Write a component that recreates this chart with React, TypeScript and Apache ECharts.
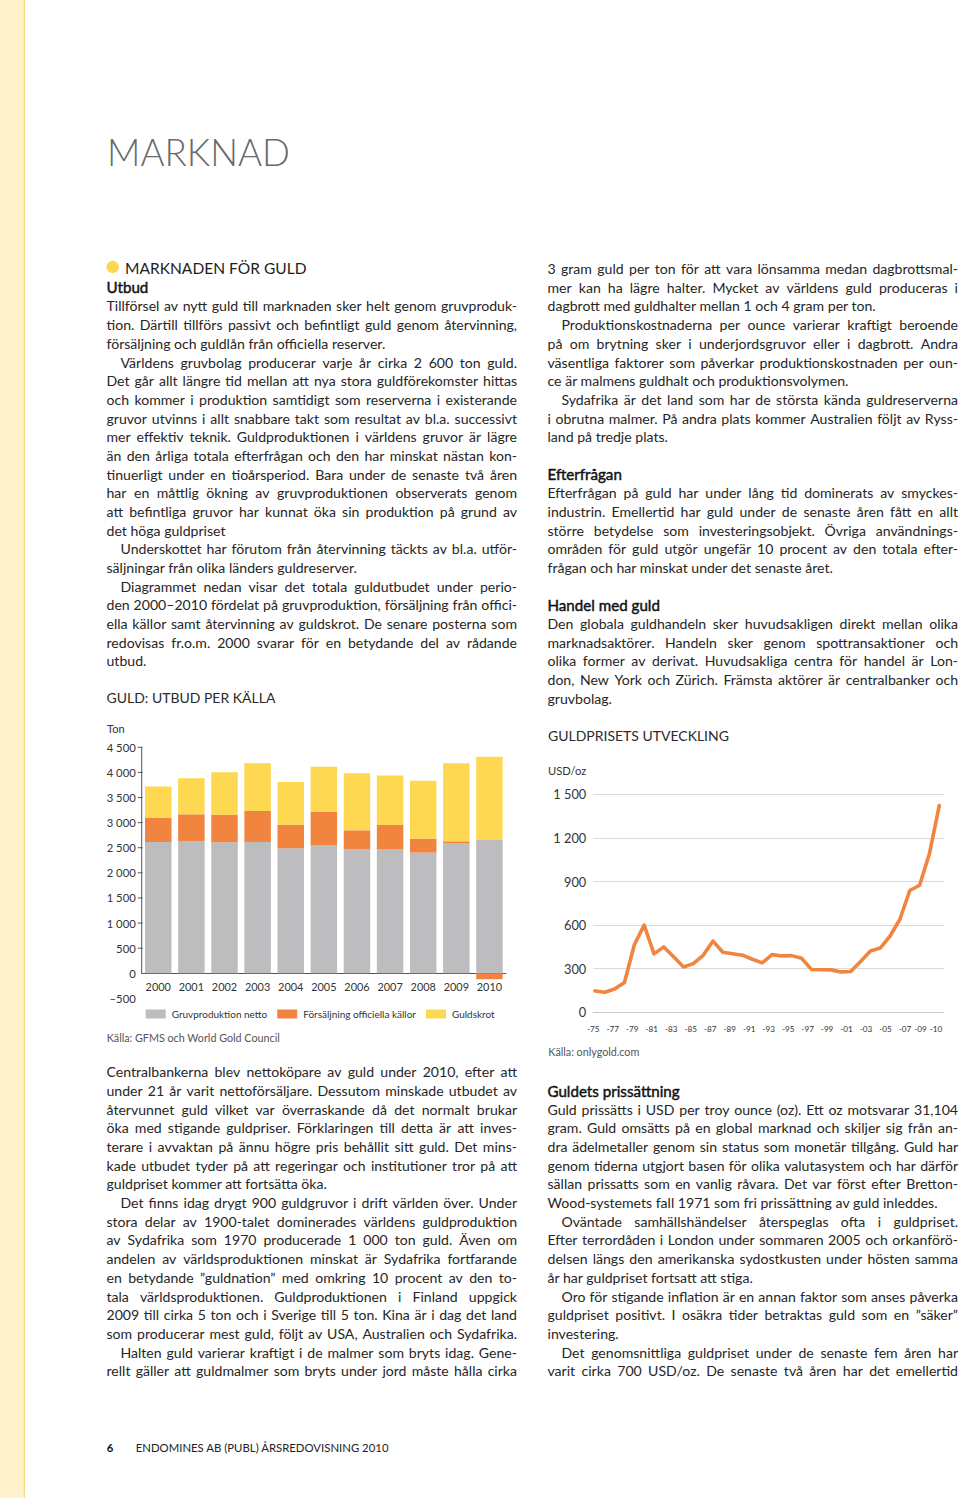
import React, { useEffect, useRef } from "react";
import * as echarts from "echarts";

const FONT = "Lato";
const TEXT = "#262626";
const GRAY = "#bdbdbf";
const ORANGE = "#f1843f";
const YELLOW = "#fdd850";

// ---------- Chart 1: GULD: UTBUD PER KÄLLA (ton) ----------
const supplyYears = ["2000", "2001", "2002", "2003", "2004", "2005", "2006", "2007", "2008", "2009", "2010"];
const supplyNames = ["Gruvproduktion netto", "Försäljning officiella källor", "Guldskrot"];
const mineProduction = [2615, 2635, 2608, 2615, 2489, 2542, 2476, 2469, 2403, 2588, 2655];
const officialSales = [478, 531, 551, 617, 471, 677, 371, 484, 278, 40, -119];
const goldScrap = [624, 717, 843, 949, 850, 896, 1135, 983, 1155, 1553, 1659];
const supplyTickValues = [500, 1000, 1500, 2000, 2500, 3000, 3500, 4000, 4500];

// ---------- Chart 2: GULDPRISETS UTVECKLING (USD/oz) ----------
const priceYears = [1975, 1976, 1977, 1978, 1979, 1980, 1981, 1982, 1983, 1984, 1985, 1986, 1987, 1988, 1989, 1990, 1991, 1992, 1993, 1994, 1995, 1996, 1997, 1998, 1999, 2000, 2001, 2002, 2003, 2004, 2005, 2006, 2007, 2008, 2009, 2010];
const goldPrice = [147, 138, 160, 205, 465, 600, 402, 450, 382, 312, 335, 392, 490, 413, 403, 393, 365, 340, 397, 388, 390, 372, 295, 293, 292, 278, 281, 350, 422, 442, 525, 640, 838, 874, 1092, 1422];
const priceTickLabels = ["-75", "-77", "-79", "-81", "-83", "-85", "-87", "-89", "-91", "-93", "-95", "-97", "-99", "-01", "-03", "-05", "-07", "-09", "-10"];

// ---------- Page text ----------
type Line = [string, string];
const leftTop: Line[] = [
  ["Utbud", "h"],
  ["Tillförsel av nytt guld till marknaden sker helt genom gruvproduk-", "j"],
  ["tion. Därtill tillförs passivt och befintligt guld genom återvinning,", "j"],
  ["försäljning och guldlån från officiella reserver.", ""],
  ["Världens gruvbolag producerar varje år cirka 2 600 ton guld.", "ij"],
  ["Det går allt längre tid mellan att nya stora guldförekomster hittas", "j"],
  ["och kommer i produktion samtidigt som reserverna i existerande", "j"],
  ["gruvor utvinns i allt snabbare takt som resultat av bl.a. successivt", "j"],
  ["mer effektiv teknik. Guldproduktionen i världens gruvor är lägre", "j"],
  ["än den årliga totala efterfrågan och den har minskat nästan kon-", "j"],
  ["tinuerligt under en tioårsperiod. Bara under de senaste två åren", "j"],
  ["har en måttlig ökning av gruvproduktionen observerats genom", "j"],
  ["att befintliga gruvor har kunnat öka sin produktion på grund av", "j"],
  ["det höga guldpriset", ""],
  ["Underskottet har förutom från återvinning täckts av bl.a. utför-", "ij"],
  ["säljningar från olika länders guldreserver.", ""],
  ["Diagrammet nedan visar det totala guldutbudet under perio-", "ij"],
  ["den 2000–2010 fördelat på gruvproduktion, försäljning från offici-", "j"],
  ["ella källor samt återvinning av guldskrot. De senare posterna som", "j"],
  ["redovisas fr.o.m. 2000 svarar för en betydande del av rådande", "j"],
  ["utbud.", ""],
];
const leftBottom: Line[] = [
  ["Centralbankerna blev nettoköpare av guld under 2010, efter att", "j"],
  ["under 21 år varit nettoförsäljare. Dessutom minskade utbudet av", "j"],
  ["återvunnet guld vilket var överraskande då det normalt brukar", "j"],
  ["öka med stigande guldpriser. Förklaringen till detta är att inves-", "j"],
  ["terare i avvaktan på ännu högre pris behållit sitt guld. Det mins-", "j"],
  ["kade utbudet tyder på att regeringar och institutioner tror på att", "j"],
  ["guldpriset kommer att fortsätta öka.", ""],
  ["Det finns idag drygt 900 guldgruvor i drift världen över. Under", "ij"],
  ["stora delar av 1900-talet dominerades världens guldproduktion", "j"],
  ["av Sydafrika som 1970 producerade 1 000 ton guld. Även om", "j"],
  ["andelen av världsproduktionen minskat är Sydafrika fortfarande", "j"],
  ["en betydande ”guldnation” med omkring 10 procent av den to-", "j"],
  ["tala världsproduktionen. Guldproduktionen i Finland uppgick", "j"],
  ["2009 till cirka 5 ton och i Sverige till 5 ton. Kina är i dag det land", "j"],
  ["som producerar mest guld, följt av USA, Australien och Sydafrika.", "j"],
  ["Halten guld varierar kraftigt i de malmer som bryts idag. Gene-", "ij"],
  ["rellt gäller att guldmalmer som bryts under jord måste hålla cirka", "j"],
];
const rightTop: Line[] = [
  ["3 gram guld per ton för att vara lönsamma medan dagbrottsmal-", "j"],
  ["mer kan ha lägre halter. Mycket av världens guld produceras i", "j"],
  ["dagbrott med guldhalter mellan 1 och 4 gram per ton.", ""],
  ["Produktionskostnaderna per ounce varierar kraftigt beroende", "ij"],
  ["på om brytning sker i underjordsgruvor eller i dagbrott. Andra", "j"],
  ["väsentliga faktorer som påverkar produktionskostnaden per oun-", "j"],
  ["ce är malmens guldhalt och produktionsvolymen.", ""],
  ["Sydafrika är det land som har de största kända guldreserverna", "ij"],
  ["i obrutna malmer. På andra plats kommer Australien följt av Ryss-", "j"],
  ["land på tredje plats.", ""],
  ["", ""],
  ["Efterfrågan", "h"],
  ["Efterfrågan på guld har under lång tid dominerats av smyckes-", "j"],
  ["industrin. Emellertid har guld under de senaste åren fått en allt", "j"],
  ["större betydelse som investeringsobjekt. Övriga användnings-", "j"],
  ["områden för guld utgör ungefär 10 procent av den totala efter-", "j"],
  ["frågan och har minskat under det senaste året.", ""],
  ["", ""],
  ["Handel med guld", "h"],
  ["Den globala guldhandeln sker huvudsakligen direkt mellan olika", "j"],
  ["marknadsaktörer. Handeln sker genom spottransaktioner och", "j"],
  ["olika former av derivat. Huvudsakliga centra för handel är Lon-", "j"],
  ["don, New York och Zürich. Främsta aktörer är centralbanker och", "j"],
  ["gruvbolag.", ""],
];
const rightBottom: Line[] = [
  ["Guldets prissättning", "h"],
  ["Guld prissätts i USD per troy ounce (oz). Ett oz motsvarar 31,104", "j"],
  ["gram. Guld omsätts på en global marknad och skiljer sig från an-", "j"],
  ["dra ädelmetaller genom sin status som monetär tillgång. Guld har", "j"],
  ["genom tiderna utgjort basen för olika valutasystem och har därför", "j"],
  ["sällan prissatts som en vanlig råvara. Det var först efter Bretton-", "j"],
  ["Wood-systemets fall 1971 som fri prissättning av guld inleddes.", ""],
  ["Oväntade samhällshändelser återspeglas ofta i guldpriset.", "ij"],
  ["Efter terrordåden i London under sommaren 2005 och orkanförö-", "j"],
  ["delsen längs den amerikanska sydostkusten under hösten samma", "j"],
  ["år har guldpriset fortsatt att stiga.", ""],
  ["Oro för stigande inflation är en annan faktor som anses påverka", "ij"],
  ["guldpriset positivt. I osäkra tider betraktas guld som en ”säker”", "j"],
  ["investering.", ""],
  ["Det genomsnittliga guldpriset under de senaste fem åren har", "ij"],
  ["varit cirka 700 USD/oz. De senaste två åren har det emellertid", "j"],
];

// ---------- Layout ----------
const ROW0 = 288.3;
const LH = 18.68;
const rowY = (k: number) => ROW0 + LH * k;
const LEFT_X = 106.5;
const RIGHT_X = 547.5;
const COL_W = 410.5;
const INDENT = 14;

const BAR_GRID = { left: 141.7, top: 747.3, width: 364.3, height: 251.1 };
const LINE_GRID = { left: 593.3, top: 794.3, width: 350.7, height: 218 };

let _ctx: CanvasRenderingContext2D | null = null;
function measure(text: string, size: number, weight: number = 400) {
  if (!_ctx) _ctx = document.createElement("canvas").getContext("2d");
  _ctx!.font = `${weight} ${size}px ${FONT}`;
  return _ctx!.measureText(text).width;
}
function fit(text: string, width: number, weight: number = 400) {
  return (100 * width) / measure(text, 100, weight);
}

function txt(text: string, x: number, y: number, size: number, o: any = {}) {
  const style: any = {
    text,
    fill: o.color || TEXT,
    fontSize: size,
    fontFamily: FONT,
    fontWeight: o.weight || 400,
    align: o.align || "left",
    verticalAlign: "middle",
    textAlign: o.align || "left",
    textVerticalAlign: "middle",
  };
  if (o.stroke) {
    style.stroke = o.color || TEXT;
    style.lineWidth = o.stroke;
  }
  return { type: "text", x, y, silent: true, style };
}

const fmtNum = (v: number) => {
  const s = String(Math.abs(v)).replace(/\B(?=(\d{3})+(?!\d))/g, " ");
  return v < 0 ? "–" + s : s;
};

function buildPage() {
  const els: any[] = [];
  // margin strip
  els.push({ type: "rect", silent: true, shape: { x: 0, y: 0, width: 23.5, height: 1498 }, style: { fill: "#fff3cc" } });
  els.push({ type: "rect", silent: true, shape: { x: 23.5, y: 0, width: 1.6, height: 1498 }, style: { fill: "#f6dd84" } });

  // Body font size
  let bodySize = fit("försäljning och guldlån från officiella reserver.", 279);
  const all = [...leftTop, ...leftBottom, ...rightTop, ...rightBottom];
  const sp100 = measure(" ", 100);
  all.forEach(([t, f]) => {
    if (!f.includes("j")) return;
    const words = t.split(" ");
    const sum = words.reduce((a, w) => a + measure(w, 100), 0);
    const need = sum + (words.length - 1) * sp100 * 0.55;
    const avail = COL_W - (f.includes("i") ? INDENT : 0);
    bodySize = Math.min(bodySize, (100 * avail) / need);
  });
  const headSize = fit("Handel med guld", 112.5, 400);
  const dy = -0.07 * bodySize;

  const block = (lines: Line[], x0: number, k0: number) => {
    lines.forEach(([t, f], i) => {
      if (!t) return;
      const y = rowY(k0 + i) + dy;
      if (f.includes("h")) {
        els.push(txt(t, x0, y, headSize, { weight: 400, color: "#111", stroke: 0.45 }));
        return;
      }
      const ind = f.includes("i") ? INDENT : 0;
      if (!f.includes("j")) {
        els.push(txt(t, x0 + ind, y, bodySize));
        return;
      }
      const words = t.split(" ");
      const ws = words.map((w) => measure(w, bodySize));
      const total = ws.reduce((a, b) => a + b, 0);
      const gap = (COL_W - ind - total) / (words.length - 1);
      let x = x0 + ind;
      words.forEach((w, j) => {
        els.push(txt(w, x, y, bodySize));
        x += ws[j] + gap;
      });
    });
  };
  block(leftTop, LEFT_X, 0);
  block(leftBottom, LEFT_X, 42);
  block(rightTop, RIGHT_X, -1);
  block(rightBottom, RIGHT_X, 43);

  // Title
  const titleSize = fit("MARKNAD", 183, 300);
  els.push(txt("MARKNAD", 107, 150.8 + 0.036 * titleSize, titleSize, { weight: 300, color: "#6a6a6a" }));

  // Section header with dot
  const secSize = fit("MARKNADEN FÖR GULD", 181.7);
  els.push({ type: "circle", silent: true, shape: { cx: 112.7, cy: 267, r: 6.2 }, style: { fill: "#fcd94c" } });
  els.push(txt("MARKNADEN FÖR GULD", 125, 267.3 + 0.036 * secSize, secSize, { color: "#1e1e1e" }));

  // Chart titles
  const capSize = fit("GULDPRISETS UTVECKLING", 181);
  els.push(txt("GULD: UTBUD PER KÄLLA", 106.5, rowY(22) - 1.5, capSize, { color: "#2a2a2a" }));
  els.push(txt("GULDPRISETS UTVECKLING", 548, rowY(24) - 1.5, capSize, { color: "#2a2a2a" }));

  // Units and sources
  const smallSize = fit("Källa: GFMS och World Gold Council", 173.3);
  els.push(txt("Ton", 107, 728.3, fit("Ton", 17.7), { color: "#333" }));
  els.push(txt("USD/oz", 548, 770.7, fit("USD/oz", 38.4), { color: "#333" }));
  els.push(txt("Källa: GFMS och World Gold Council", 106.7, 1037.3, smallSize, { color: "#555" }));
  els.push(txt("Källa: onlygold.com", 548.3, 1051.7, smallSize, { color: "#555" }));

  // Footer
  const footSize = fit("ENDOMINES AB (PUBL) ÅRSREDOVISNING 2010", 253.6);
  els.push(txt("6", 106.7, 1447.7, footSize, { weight: 700, color: "#111" }));
  els.push(txt("ENDOMINES AB (PUBL) ÅRSREDOVISNING 2010", 135.7, 1447.7, footSize, { color: "#222" }));
  return els;
}

export default function App() {
  const ref = useRef<HTMLDivElement>(null);
  useEffect(() => {
    document.body.style.margin = "0";
    if (!ref.current) return;
    const chart = echarts.init(ref.current, undefined, { renderer: "svg" });
    const pageEls = buildPage();

    const barAxisSize = fit("4 500", 29);
    const barXSize = fit("2000", 25.3);
    const legendSize = fit("Gruvproduktion netto", 95.6);
    const priceYSize = fit("1 500", 33);
    const priceXSize = fit("-75", 12.5);

    const option: any = {
      animation: false,
      textStyle: { fontFamily: FONT },
      grid: [
        { ...BAR_GRID, containLabel: false, outerBoundsMode: "none" },
        { ...LINE_GRID, containLabel: false, outerBoundsMode: "none" },
      ],
      legend: {
        data: supplyNames,
        left: 140.7,
        top: 1004,
        orient: "horizontal",
        icon: "rect",
        itemWidth: 20,
        itemHeight: 9,
        itemGap: 10,
        selectedMode: false,
        textStyle: { fontFamily: FONT, fontSize: legendSize, color: "#333", padding: [0, 0, 0, 1] },
      },
      xAxis: [
        {
          type: "category",
          gridIndex: 0,
          data: supplyYears,
          axisLine: { show: true, onZero: false, lineStyle: { color: "#555", width: 1 } },
          axisTick: { show: false },
          axisLabel: { fontSize: barXSize, color: "#333", margin: 8, fontFamily: FONT },
          splitLine: { show: false },
        },
        {
          type: "value",
          gridIndex: 1,
          min: 1974.83,
          max: 2010.48,
          show: false,
          splitLine: { show: false },
        },
        {
          type: "category",
          gridIndex: 1,
          position: "bottom",
          data: priceTickLabels,
          boundaryGap: false,
          axisLine: { show: true, onZero: false, lineStyle: { color: "#c9c9c9", width: 1.2 } },
          axisTick: { show: false },
          axisLabel: {
            fontSize: priceXSize,
            color: "#333",
            margin: 13,
            fontFamily: FONT,
            interval: 0,
            formatter: (v: string) => (v === "-10" ? "{b|" + v + "}" : v === "-09" ? "{a|" + v + "}" : v),
            rich: {
              a: { fontSize: priceXSize, fontFamily: FONT, color: "#333", padding: [0, 8, 0, 0] },
              b: { fontSize: priceXSize, fontFamily: FONT, color: "#333", padding: [0, 16, 0, 0] },
            },
          },
          splitLine: { show: false },
        },
      ],
      yAxis: [
        {
          type: "value",
          gridIndex: 0,
          min: -500,
          max: 4500,
          interval: 500,
          axisLine: { show: false },
          axisTick: { show: false },
          splitLine: { show: false },
          axisLabel: {
            fontSize: barAxisSize,
            color: "#333",
            margin: 6,
            fontFamily: FONT,
            padding: [0, 0, 5, 0],
            formatter: (v: number) => fmtNum(v),
          },
        },
        {
          type: "value",
          gridIndex: 1,
          min: 0,
          max: 1500,
          interval: 300,
          axisLine: { show: false },
          axisTick: { show: false },
          splitLine: { show: true, lineStyle: { color: "#dadada", width: 1.2 } },
          axisLabel: {
            fontSize: priceYSize,
            color: "#333",
            margin: 7,
            fontFamily: FONT,
            formatter: (v: number) => fmtNum(v),
          },
        },
      ],
      series: [
        {
          name: supplyNames[0],
          type: "bar",
          stack: "supply",
          xAxisIndex: 0,
          yAxisIndex: 0,
          barCategoryGap: "20%",
          data: mineProduction,
          itemStyle: { color: GRAY },
          silent: true,
        },
        {
          name: supplyNames[1],
          type: "bar",
          stack: "supply",
          xAxisIndex: 0,
          yAxisIndex: 0,
          barCategoryGap: "20%",
          data: officialSales,
          itemStyle: { color: ORANGE },
          silent: true,
        },
        {
          name: supplyNames[2],
          type: "bar",
          stack: "supply",
          xAxisIndex: 0,
          yAxisIndex: 0,
          barCategoryGap: "20%",
          data: goldScrap,
          itemStyle: { color: YELLOW },
          silent: true,
        },
        {
          name: "Guldpris",
          type: "line",
          xAxisIndex: 1,
          yAxisIndex: 1,
          data: priceYears.map((y, i) => [y, goldPrice[i]]),
          symbol: "none",
          showSymbol: false,
          silent: true,
          lineStyle: { color: ORANGE, width: 3.6, cap: "round", join: "round" },
        },
      ],
      graphic: { elements: pageEls },
    };
    chart.setOption(option);

    // y-axis line, ticks and zero-based x-axis of the supply chart, from the axis scale
    const yTop = chart.convertToPixel({ yAxisIndex: 0 }, supplyTickValues[supplyTickValues.length - 1]) as number;
    const yZero = chart.convertToPixel({ yAxisIndex: 0 }, 0) as number;
    const axisEls: any[] = [
      { type: "line", silent: true, shape: { x1: BAR_GRID.left, y1: yTop, x2: BAR_GRID.left, y2: yZero }, style: { stroke: "#555", lineWidth: 1 } },
    ];
    supplyTickValues.forEach((v) => {
      const py = chart.convertToPixel({ yAxisIndex: 0 }, v) as number;
      axisEls.push({ type: "line", silent: true, shape: { x1: BAR_GRID.left - 4, y1: py, x2: BAR_GRID.left + 1, y2: py }, style: { stroke: "#555", lineWidth: 1 } });
    });
    const zeroOffset = -(BAR_GRID.top + BAR_GRID.height - yZero);
    chart.setOption({
      xAxis: [{ offset: zeroOffset }, {}, {}],
      graphic: { elements: [...pageEls, ...axisEls] },
    });

    return () => chart.dispose();
  }, []);
  return <div ref={ref} style={{ position: "absolute", left: 0, top: 0, width: 960, height: 1498 }} />;
}
